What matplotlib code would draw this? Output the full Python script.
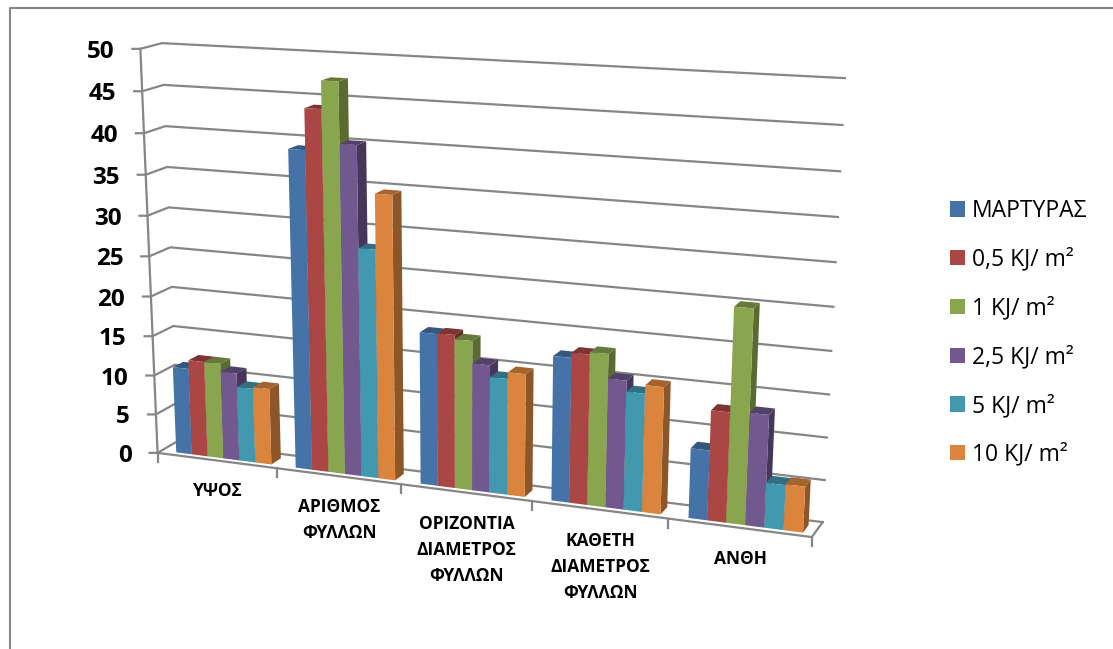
import matplotlib
matplotlib.use("Agg")
import matplotlib.pyplot as plt
import numpy as np
from matplotlib.patches import Patch, Polygon

plt.rcParams["font.family"] = ["Open Sans", "Noto Sans", "DejaVu Sans"]

# data
categories = ["ΥΨΟΣ", "ΑΡΙΘΜΟΣ\nΦΥΛΛΩΝ", "ΟΡΙΖΟΝΤΙΑ\nΔΙΑΜΕΤΡΟΣ\nΦΥΛΛΩΝ",
              "ΚΑΘΕΤΗ\nΔΙΑΜΕΤΡΟΣ\nΦΥΛΛΩΝ", "ΑΝΘΗ"]
series_names = ["ΜΑΡΤΥΡΑΣ", "0,5 KJ/ m²", "1 KJ/ m²", "2,5 KJ/ m²", "5 KJ/ m²", "10 KJ/ m²"]
control = [11.0, 39.1, 18.6, 17.4, 8.3]
dose_05 = [12.1, 44.0, 18.7, 18.0, 13.0]
dose_1 = [12.1, 47.3, 18.2, 18.3, 25.1]
dose_25 = [11.1, 40.1, 15.5, 15.4, 13.2]
dose_5 = [9.4, 28.0, 14.1, 14.1, 5.3]
dose_10 = [9.6, 34.6, 14.9, 15.1, 5.4]
value_ticks = list(range(0, 55, 5))

series = [control, dose_05, dose_1, dose_25, dose_5, dose_10]
front_cols = ["#4572A7", "#AA4643", "#89A54E", "#71588F", "#4198AF", "#DB843D"]
top_cols = ["#33577F", "#7E3432", "#66793A", "#54416A", "#307082", "#A5632D"]
side_cols = ["#2A4766", "#672A29", "#5A6B32", "#46375A", "#285D6C", "#8C5628"]
GREY = "#868686"

# camera: (category, depth, value) -> pixel, solved from where the box corners sit
calib = [
    (0, 0, 0, 158, 452), (0, 0, 50, 139.5, 49), (0, 1, 0, 177, 442), (0, 1, 50, 163, 43),
    (5, 0, 0, 812, 538), (5, 1, 0, 823, 521), (5, 1, 50, 845, 78), (5, 1, 25, 833, 307),
    (1, 0, 0, 277, 468), (2, 0, 0, 402, 484), (3, 0, 0, 531, 501), (4, 0, 0, 668, 519),
]
rows = []
for u, d, v, x, y in calib:
    p = [u / 5, d, v / 50, 1]
    rows.append(p + [0, 0, 0, 0] + [-x * c for c in p])
    rows.append([0, 0, 0, 0] + p + [-y * c for c in p])
cam = np.linalg.svd(np.array(rows))[2][-1].reshape(3, 4)


def proj(u, d, v):
    q = cam @ np.array([u / 5, d, v / 50, 1])
    return q[0] / q[2], q[1] / q[2]


fig = plt.figure(figsize=(11.13, 6.49), dpi=100)
ax = fig.add_axes([0, 0, 1, 1])
ax.set_xlim(0, 1113)
ax.set_ylim(649, 0)
ax.axis("off")

# outer frame
ax.plot([9.5, 9.5, 1113], [649, 7.5, 7.5], color=GREY, lw=1.5)

# value gridlines along left wall and back wall
for v in value_ticks:
    a = proj(0, 0, v)
    b = proj(0, 1, v)
    c = proj(5, 1, v)
    ax.plot([a[0] - 8, a[0], b[0], c[0]], [a[1], a[1], b[1], c[1]], color=GREY, lw=1.6, zorder=1)
    ax.text(a[0] - 26, a[1], str(v), ha="right", va="center_baseline", fontsize=17.5,
            fontweight="bold", color="black")

# value axis and floor
a, b = proj(0, 0, 0), proj(0, 0, 50)
ax.plot([a[0], b[0]], [a[1], b[1]], color=GREY, lw=1.6, zorder=1)
floor = [proj(0, 0, 0), proj(5, 0, 0), proj(5, 1, 0)]
ax.plot(*zip(*floor), color=GREY, lw=1.6, zorder=1)
for u in range(6):
    x, y = proj(u, 0, 0)
    ax.plot([x, x], [y, y + 9], color=GREY, lw=1.6, zorder=1)

# bars, left to right so each one covers the side of the one before
lo, hi = 0.125, 0.925
dfront, dback = 0.2, 0.7
width = (hi - lo) / len(series)
z = 2
for c in range(len(categories)):
    for s, vals in enumerate(series):
        v = vals[c]
        u0 = c + lo + s * width
        u1 = u0 + width
        side = [proj(u1, dfront, 0), proj(u1, dback, 0), proj(u1, dback, v), proj(u1, dfront, v)]
        top = [proj(u0, dfront, v), proj(u1, dfront, v), proj(u1, dback, v), proj(u0, dback, v)]
        front = [proj(u0, dfront, 0), proj(u1, dfront, 0), proj(u1, dfront, v), proj(u0, dfront, v)]
        for pts, col in ((side, side_cols[s]), (top, top_cols[s]), (front, front_cols[s])):
            ax.add_patch(Polygon(pts, closed=True, fc=col, ec="none", zorder=z))
            z += 1

# category labels
for c, name in enumerate(categories):
    x, y = proj(c + 0.5, 0, 0)
    ax.text(x + 1, y + 22, name, ha="center", va="top", fontsize=12.5, fontweight="bold",
            linespacing=1.58, color="black")

handles = [Patch(fc=col, ec="none") for col in front_cols]
ax.legend(handles, series_names, loc="upper left", bbox_to_anchor=(950 / 1113, 1 - 199 / 649),
          frameon=False, fontsize=16.5, handlelength=0.655, handleheight=0.655, handletextpad=0.3,
          labelspacing=1.08, borderpad=0, borderaxespad=0)

fig.savefig("out.png", dpi=100)
